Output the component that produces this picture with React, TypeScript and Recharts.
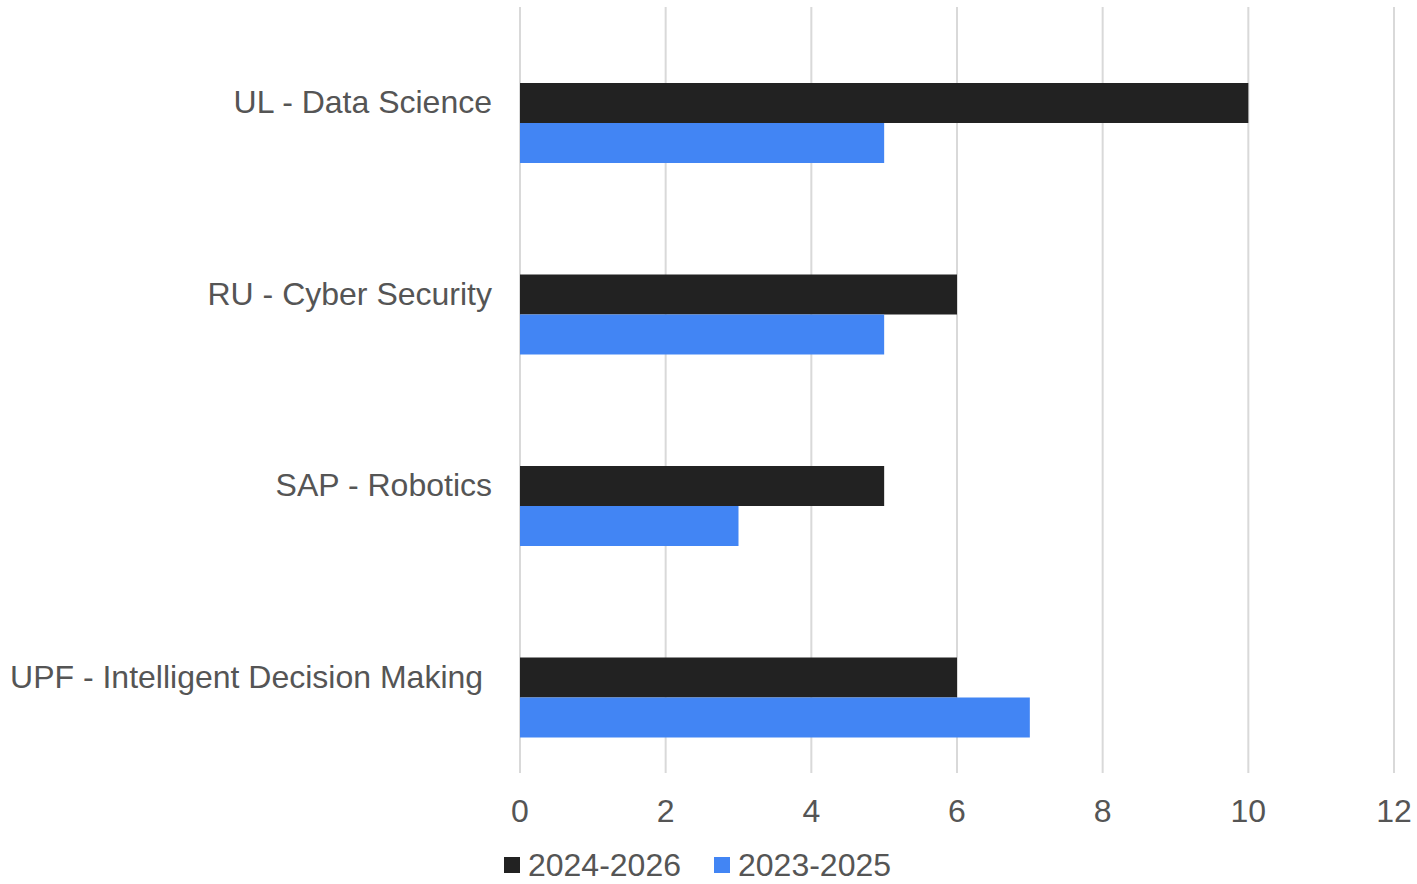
import { BarChart, Bar, XAxis, YAxis, CartesianGrid, Legend } from 'recharts';

const programs = [
  'UL - Data Science',
  'RU - Cyber Security',
  'SAP - Robotics',
  'UPF - Intelligent Decision Making ',
];
const cohort2024 = [10, 6, 5, 6];
const cohort2023 = [5, 5, 3, 7];
const xTicks = [0, 2, 4, 6, 8, 10, 12];

const SERIES = [
  { key: '2024-2026', color: '#222222', values: cohort2024 },
  { key: '2023-2025', color: '#4285f4', values: cohort2023 },
];

const data = programs.map((name, i) => {
  const row: Record<string, string | number> = { name };
  SERIES.forEach((s) => {
    row[s.key] = s.values[i];
  });
  return row;
});

const FONT = 'Arial, "Liberation Sans", sans-serif';
const TEXT = '#555555';

function CategoryTick({ x, y, payload }: any) {
  return (
    <text
      x={x}
      y={y}
      dy="0.33em"
      textAnchor="end"
      fill={TEXT}
      fontSize={32}
      fontFamily={FONT}
      style={{ whiteSpace: 'pre' }}
    >
      {payload.value}
    </text>
  );
}

function LegendContent() {
  return (
    <div
      style={{
        display: 'flex',
        justifyContent: 'center',
        height: 38,
        lineHeight: '38px',
        fontFamily: FONT,
        fontSize: 32,
        color: TEXT,
      }}
    >
      {SERIES.map((s, i) => (
        <div
          key={s.key}
          style={{ display: 'flex', alignItems: 'center', marginLeft: i ? 33 : 1 }}
        >
          <span style={{ width: 16, height: 16, background: s.color, marginRight: 8 }} />
          <span>{s.key}</span>
        </div>
      ))}
    </div>
  );
}

export default function App() {
  return (
    <div style={{ position: 'absolute', left: 0, top: 0, background: '#fff' }}>
      <BarChart
        width={1417}
        height={884}
        data={data}
        layout="vertical"
        margin={{ top: 7, right: 23, bottom: 0, left: 0 }}
        barGap={0}
        barSize={40}
      >
        <CartesianGrid horizontal={false} stroke="#d9d9d9" strokeWidth={2} />
        <XAxis
          type="number"
          domain={[0, 12]}
          ticks={xTicks}
          axisLine={false}
          tickLine={false}
          tickSize={0}
          tickMargin={26}
          height={73}
          tick={{ fill: TEXT, fontSize: 32, fontFamily: FONT }}
        />
        <YAxis
          type="category"
          dataKey="name"
          width={520}
          axisLine={false}
          tickLine={false}
          tickSize={0}
          tickMargin={28}
          tick={<CategoryTick />}
        />
        <Legend verticalAlign="bottom" height={38} content={<LegendContent />} />
        <Bar dataKey="spacer" fill="transparent" legendType="none" isAnimationActive={false} />
        {SERIES.map((s) => (
          <Bar key={s.key} dataKey={s.key} fill={s.color} isAnimationActive={false} />
        ))}
      </BarChart>
    </div>
  );
}
